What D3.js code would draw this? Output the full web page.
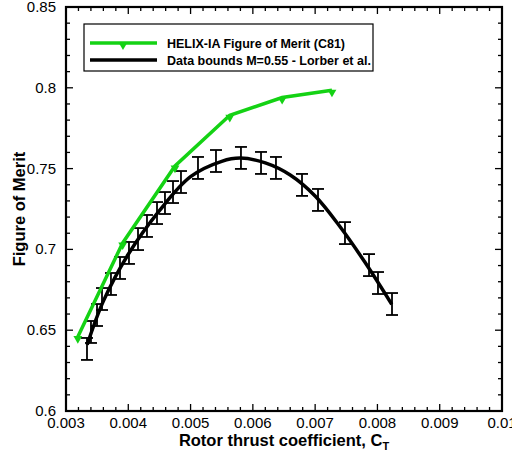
<!DOCTYPE html>
<html>
<head>
<meta charset="utf-8">
<script src="https://cdn.jsdelivr.net/npm/d3@7"></script>
<style>
  body { margin: 0; background: #fff; }
  svg text { font-family: "Liberation Sans", Arial, sans-serif; }
</style>
</head>
<body>
<div class="app"></div>
<script>
// HELIX-IA prediction
const helixCT = [0.00319, 0.00391, 0.00475, 0.00563, 0.00647, 0.00727]
const helixFM = [0.646, 0.704, 0.7516, 0.783, 0.794, 0.7985]

// Lorber et al. data bounds (fitted line)
const boundCT = [0.00334, 0.0036, 0.0040, 0.0045, 0.0050, 0.0055, 0.0058, 0.0062, 0.0066, 0.0070, 0.0074, 0.0078, 0.00823]
const boundFM = [0.641, 0.668, 0.697, 0.724, 0.745, 0.7545, 0.7565, 0.7535, 0.746, 0.733, 0.714, 0.692, 0.666]

// error bar centres
const barCT = [0.003337, 0.003401, 0.003498, 0.003578, 0.003722, 0.003867, 0.004011, 0.004156, 0.0043,
  0.004461, 0.004589, 0.004718, 0.004846, 0.005119, 0.005408, 0.005809, 0.006131, 0.006371,
  0.006789, 0.007046, 0.007479, 0.007865, 0.008009, 0.008234]
const barFM = [0.6384, 0.6489, 0.6594, 0.6693, 0.6786, 0.6885, 0.6978, 0.7064, 0.7145,
  0.7225, 0.7287, 0.7355, 0.7417, 0.7504, 0.7547, 0.7566, 0.7535, 0.7504,
  0.7399, 0.7306, 0.7101, 0.6903, 0.6792, 0.6662]
const barErr = 0.0068

const xTicks = [0.003, 0.004, 0.005, 0.006, 0.007, 0.008, 0.009, 0.01]
const yTicks = [0.6, 0.65, 0.7, 0.75, 0.8, 0.85]
const xTickLabels = ['0.003', '0.004', '0.005', '0.006', '0.007', '0.008', '0.009', '0.01']
const yTickLabels = ['0.6', '0.65', '0.7', '0.75', '0.8', '0.85']
const legendLabels = ['HELIX-IA Figure of Merit (C81)', 'Data bounds M=0.55 - Lorber et al.']

const W = 512, H = 459
const m = { left: 66, right: 10, top: 7, bottom: 48 }
const green = '#14d214'

const svg = d3.select('.app').append('svg').attr('width', W).attr('height', H)

const x = d3.scaleLinear().domain([0.003, 0.01]).range([m.left, W - m.right])
const y = d3.scaleLinear().domain([0.6, 0.85]).range([H - m.bottom, m.top])

const xMinor = d3.range(0, 36).map(i => 0.003 + i * 0.0002)
const yMinor = d3.range(0, 26).map(i => 0.6 + i * 0.01)

// ticks on all four sides, pointing inward
const tickG = svg.append('g').attr('stroke', '#000').attr('stroke-width', 1.3)
xMinor.forEach((v, i) => {
  const len = i % 5 === 0 ? 7 : 4
  tickG.append('line').attr('x1', x(v)).attr('x2', x(v)).attr('y1', y(0.6)).attr('y2', y(0.6) - len)
  tickG.append('line').attr('x1', x(v)).attr('x2', x(v)).attr('y1', y(0.85)).attr('y2', y(0.85) + len)
})
yMinor.forEach((v, i) => {
  const len = i % 5 === 0 ? 7 : 4
  tickG.append('line').attr('y1', y(v)).attr('y2', y(v)).attr('x1', x(0.003)).attr('x2', x(0.003) + len)
  tickG.append('line').attr('y1', y(v)).attr('y2', y(v)).attr('x1', x(0.01)).attr('x2', x(0.01) - len)
})

svg.append('rect')
  .attr('x', x(0.003)).attr('y', y(0.85))
  .attr('width', x(0.01) - x(0.003)).attr('height', y(0.6) - y(0.85))
  .attr('fill', 'none').attr('stroke', '#000').attr('stroke-width', 2.2)

// tick labels
svg.append('g').selectAll('text').data(xTicks).join('text')
  .attr('x', d => x(d)).attr('y', y(0.6) + 17)
  .attr('text-anchor', 'middle').attr('font-size', 15)
  .text((d, i) => xTickLabels[i])

svg.append('g').selectAll('text').data(yTicks).join('text')
  .attr('x', x(0.003) - 10).attr('y', d => y(d) + 5)
  .attr('text-anchor', 'end').attr('font-size', 15)
  .text((d, i) => yTickLabels[i])

// axis titles
const xt = svg.append('text')
  .attr('x', (x(0.003) + x(0.01)) / 2).attr('y', H - 13)
  .attr('text-anchor', 'middle').attr('font-size', 16.5).attr('font-weight', 'bold')
xt.append('tspan').text('Rotor thrust coefficient, C')
xt.append('tspan').attr('font-size', 11).attr('dy', 4).text('T')

svg.append('text')
  .attr('transform', `translate(25,${(y(0.6) + y(0.85)) / 2}) rotate(-90)`)
  .attr('text-anchor', 'middle').attr('font-size', 16.5).attr('font-weight', 'bold')
  .text('Figure of Merit')

// error bars
const bars = svg.append('g').attr('stroke', '#000').attr('stroke-width', 1.8)
barCT.forEach((c, i) => {
  const cx = x(c), y0 = y(barFM[i] - barErr), y1 = y(barFM[i] + barErr)
  bars.append('line').attr('x1', cx).attr('x2', cx).attr('y1', y0).attr('y2', y1)
  bars.append('line').attr('x1', cx - 6).attr('x2', cx + 6).attr('y1', y0).attr('y2', y0)
  bars.append('line').attr('x1', cx - 6).attr('x2', cx + 6).attr('y1', y1).attr('y2', y1)
})

// black bound line
const line = d3.line().x(d => x(d[0])).y(d => y(d[1])).curve(d3.curveCatmullRom)
svg.append('path')
  .attr('d', line(boundCT.map((c, i) => [c, boundFM[i]])))
  .attr('fill', 'none').attr('stroke', '#000').attr('stroke-width', 3.5)

// green HELIX line
svg.append('path')
  .attr('d', d3.line().x(d => x(d[0])).y(d => y(d[1]))(helixCT.map((c, i) => [c, helixFM[i]])))
  .attr('fill', 'none').attr('stroke', green).attr('stroke-width', 3.5)

const tri = d3.symbol().type(d3.symbolTriangle).size(34)
svg.append('g').selectAll('path').data(helixCT).join('path')
  .attr('d', tri)
  .attr('transform', (d, i) => `translate(${x(d)},${y(helixFM[i]) + 2}) rotate(180)`)
  .attr('fill', green)

// legend
const lg = svg.append('g')
lg.append('rect').attr('x', 84).attr('y', 24).attr('width', 289).attr('height', 47)
  .attr('fill', '#fff').attr('stroke', '#000').attr('stroke-width', 1.2)
const legColors = [green, '#000']
legendLabels.forEach((t, i) => {
  const ly = 43 + i * 17
  lg.append('line').attr('x1', 90).attr('x2', 157).attr('y1', ly).attr('y2', ly)
    .attr('stroke', legColors[i]).attr('stroke-width', 3.5)
  if (i === 0) {
    lg.append('path').attr('d', tri).attr('transform', `translate(123,${ly + 2}) rotate(180)`).attr('fill', green)
  }
  lg.append('text').attr('x', 167).attr('y', ly + 4.5)
    .attr('font-size', 12.5).attr('font-weight', 'bold').text(t)
})
</script>
</body>
</html>
